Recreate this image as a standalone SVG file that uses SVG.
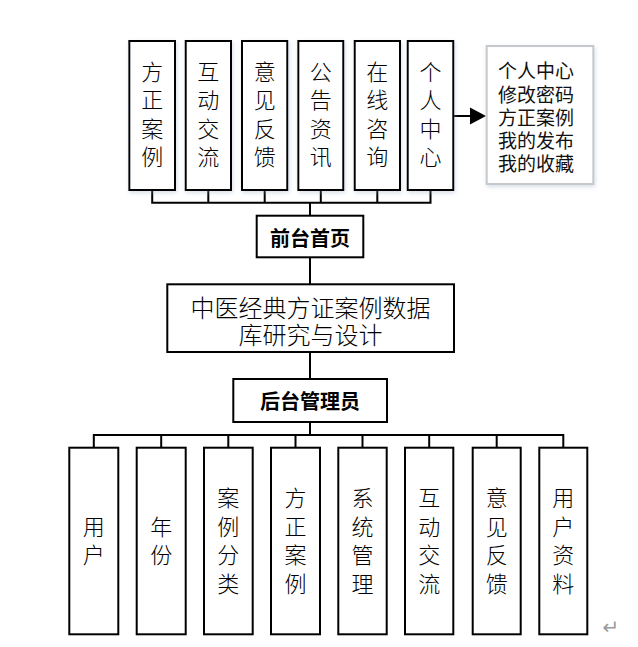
<svg xmlns="http://www.w3.org/2000/svg" width="638" height="647" viewBox="0 0 638 647">
<style>
.box{fill:#fff;stroke:#000;stroke-width:2}
.vt{font-family:"Noto Sans CJK SC","Noto Sans",sans-serif;font-size:22px;font-weight:300;fill:#000;writing-mode:vertical-rl;letter-spacing:6.4px}
.bt{font-family:"Noto Sans CJK SC","Noto Sans",sans-serif;font-size:20px;font-weight:bold;fill:#000;text-anchor:middle;dominant-baseline:central}
.mt{font-family:"Noto Sans CJK SC","Noto Sans",sans-serif;font-size:24px;font-weight:300;fill:#000;text-anchor:middle;dominant-baseline:central}
.lt{font-family:"Noto Sans CJK SC","Noto Sans",sans-serif;font-size:19px;fill:#111;dominant-baseline:central}
.ln{fill:none;stroke:#000;stroke-width:2}
</style>
<defs>
<filter id="sh" x="-20%" y="-20%" width="140%" height="140%">
<feDropShadow dx="1" dy="2" stdDeviation="2" flood-color="#8fa3c0" flood-opacity="0.35"/>
</filter>
</defs>
<g id="connectors">
<path class="ln" d="M152.2,190V202.7M208.3,190V202.7M264.7,190V202.7M320.8,190V202.7M377.3,190V202.7M430.5,190V202.7M151.2,202.7H431.5M310,202.7V215.7"/>
<path class="ln" d="M310,257.3V284.3M310,352V379M310,422V435"/>
<path class="ln" d="M93.8,435H563.3M93.8,434V447.7M161.2,434V447.7M228.3,434V447.7M295.5,434V447.7M362.5,434V447.7M429.2,434V447.7M496.7,434V447.7M563.3,434V447.7"/>
<path class="ln" d="M453.3,116H471"/>
<polygon points="470,107.5 486,116 470,124.5" fill="#000"/>
</g>
<g id="n-fzal"><rect class="box" x="129.3" y="41" width="45.7" height="149" filter="url(#sh)"/><text class="vt" x="152.2" y="60.7">方正案例</text></g>
<g id="n-hdjl"><rect class="box" x="185.7" y="41" width="45.3" height="149" filter="url(#sh)"/><text class="vt" x="208.3" y="60.7">互动交流</text></g>
<g id="n-yjfk"><rect class="box" x="242" y="41" width="45.3" height="149" filter="url(#sh)"/><text class="vt" x="264.7" y="60.7">意见反馈</text></g>
<g id="n-ggzx"><rect class="box" x="298.3" y="41" width="45" height="149" filter="url(#sh)"/><text class="vt" x="320.8" y="60.7">公告资讯</text></g>
<g id="n-zxzx"><rect class="box" x="354.7" y="41" width="45.3" height="149" filter="url(#sh)"/><text class="vt" x="377.3" y="60.7">在线咨询</text></g>
<g id="n-grzx"><rect class="box" x="407.7" y="41" width="45.6" height="149" filter="url(#sh)"/><text class="vt" x="430.5" y="60.7">个人中心</text></g>
<g id="n-grzx-list"><rect x="486.7" y="46" width="106.6" height="138" fill="#fff" stroke="#c6c9cc" stroke-width="2" filter="url(#sh)"/><text class="lt"><tspan x="498" y="69">个人中心</tspan><tspan x="498" y="92.5">修改密码</tspan><tspan x="498" y="116">方正案例</tspan><tspan x="498" y="138.5">我的发布</tspan><tspan x="498" y="162">我的收藏</tspan></text></g>
<g id="n-qtsy"><rect class="box" x="256.7" y="215.7" width="106.6" height="41.6"/><text class="bt" x="310" y="237">前台首页</text></g>
<g id="n-main"><rect class="box" x="167.3" y="284.3" width="286.7" height="67.7"/><text class="mt"><tspan x="310.6" y="306">中医经典方证案例数据</tspan><tspan x="310.6" y="333.3">库研究与设计</tspan></text></g>
<g id="n-htgly"><rect class="box" x="233.3" y="379" width="153.7" height="43"/><text class="bt" x="310" y="400.5">后台管理员</text></g>
<g id="n-yh"><rect class="box" x="69.3" y="447.7" width="49" height="186.6"/><text class="vt" x="93.8" y="515.5">用户</text></g>
<g id="n-nf"><rect class="box" x="136.7" y="447.7" width="49" height="186.6"/><text class="vt" x="161.2" y="515.5">年份</text></g>
<g id="n-alfl"><rect class="box" x="204" y="447.7" width="48.7" height="186.6"/><text class="vt" x="228.3" y="487">案例分类</text></g>
<g id="n-fzal2"><rect class="box" x="271" y="447.7" width="49" height="186.6"/><text class="vt" x="295.5" y="487">方正案例</text></g>
<g id="n-xtgl"><rect class="box" x="338.3" y="447.7" width="48.4" height="186.6"/><text class="vt" x="362.5" y="487">系统管理</text></g>
<g id="n-hdjl2"><rect class="box" x="405" y="447.7" width="48.3" height="186.6"/><text class="vt" x="429.2" y="487">互动交流</text></g>
<g id="n-yjfk2"><rect class="box" x="472.7" y="447.7" width="48" height="186.6"/><text class="vt" x="496.7" y="487">意见反馈</text></g>
<g id="n-yhzl"><rect class="box" x="539.3" y="447.7" width="48" height="186.6"/><text class="vt" x="563.3" y="487">用户资料</text></g>
<text x="611" y="627" font-family="DejaVu Sans,sans-serif" font-size="20" fill="#9a9a9a" text-anchor="middle" dominant-baseline="central">↵</text>
</svg>
